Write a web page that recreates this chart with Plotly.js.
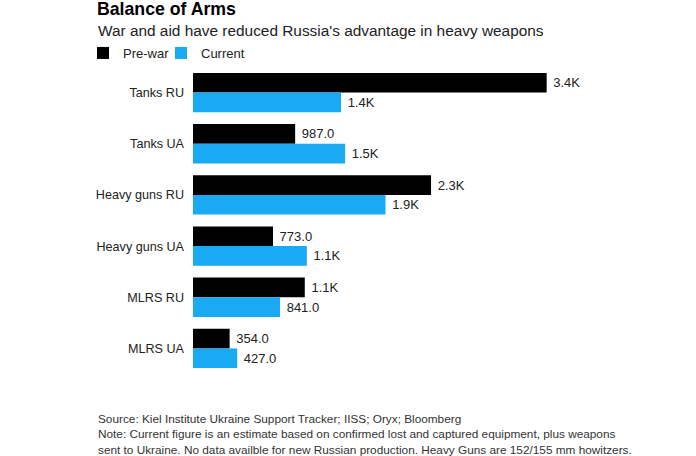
<!DOCTYPE html>
<html>
<head>
<meta charset="utf-8">
<script src="https://cdn.plot.ly/plotly-3.0.1.min.js"></script>
<style>
  body { margin: 0; background: #fff; }
  #chart { width: 696px; height: 456px; }
</style>
</head>
<body>
<div id="chart"></div>
<script>
// weapon categories, top to bottom
var categories = ['Tanks RU', 'Tanks UA', 'Heavy guns RU', 'Heavy guns UA', 'MLRS RU', 'MLRS UA'];
var preWar = [3417, 987, 2300, 773, 1080, 354];
var current = [1430, 1470, 1860, 1100, 841, 427];

// 987 -> "987.0", 3417 -> "3.4K"  (nbsp in front gives a bit of room after the bar)
function fmt(v) {
  if (v >= 1000) return '\u00a0' + (v / 1000).toFixed(1) + 'K';
  return '\u00a0' + v.toFixed(1);
}

var font = 'Liberation Sans, Arial, sans-serif';
var plotL = 193, plotW = 414;   // plot area in px, used for paper coords
var plotT = 67, plotH = 307;
var px = function (x) { return (x - plotL) / plotW; };
var py = function (y) { return 1 - (y - plotT) / plotH; };

var tracePre = {
  type: 'bar',
  orientation: 'h',
  name: 'Pre-war',
  legend: 'legend',
  y: categories,
  x: preWar,
  text: preWar.map(fmt),
  textposition: 'outside',
  cliponaxis: false,
  constraintext: 'none',
  textfont: { size: 13, color: '#222', family: font },
  marker: { color: '#000000' },
  hoverinfo: 'x+y'
};

var traceCur = {
  type: 'bar',
  orientation: 'h',
  name: 'Current',
  legend: 'legend2',
  y: categories,
  x: current,
  text: current.map(fmt),
  textposition: 'outside',
  cliponaxis: false,
  constraintext: 'none',
  textfont: { size: 13, color: '#222', family: font },
  marker: { color: '#1aa9f3' },
  hoverinfo: 'x+y'
};

// two one-item legends so the entries can sit close together
var legendBase = {
  orientation: 'h',
  xanchor: 'left',
  y: py(53), yanchor: 'middle',
  font: { size: 13, color: '#222', family: font },
  itemwidth: 30,
  bgcolor: 'rgba(0,0,0,0)'
};

var layout = {
  width: 696,
  height: 456,
  margin: { l: plotL, r: 696 - plotL - plotW, t: plotT, b: 456 - plotT - plotH, pad: 0 },
  paper_bgcolor: '#fff',
  plot_bgcolor: '#fff',
  font: { family: font, color: '#222' },
  barmode: 'group',
  bargap: 0.23,
  bargroupgap: 0,
  title: {
    text: '<b>Balance of Arms</b>',
    font: { size: 17.7, color: '#000', family: font },
    xref: 'container', yref: 'container',
    x: 97 / 696, xanchor: 'left',
    y: 1 - 3 / 456, yanchor: 'top'
  },
  xaxis: {
    range: [0, 4000],
    visible: false,
    showgrid: false,
    zeroline: false,
    fixedrange: true
  },
  yaxis: {
    autorange: 'reversed',
    ticks: '',
    ticklabelstandoff: 8,
    tickfont: { size: 12.6, color: '#222', family: font },
    showgrid: false,
    zeroline: false,
    showline: false,
    fixedrange: true
  },
  showlegend: true,
  legend: Object.assign({}, legendBase, { x: px(83) }),
  legend2: Object.assign({}, legendBase, { x: px(161) }),
  annotations: [
    {
      text: 'War and aid have reduced Russia\'s advantage in heavy weapons',
      xref: 'paper', yref: 'paper',
      x: px(96), y: py(31),
      xanchor: 'left', yanchor: 'middle',
      showarrow: false,
      font: { size: 15.4, color: '#222', family: font }
    },
    {
      text: 'Source: Kiel Institute Ukraine Support Tracker; IISS; Oryx; Bloomberg<br>' +
            'Note: Current figure is an estimate based on confirmed lost and captured equipment, plus weapons<br>' +
            'sent to Ukraine. No data availble for new Russian production. Heavy Guns are 152/155 mm howitzers.',
      xref: 'paper', yref: 'paper',
      x: px(96), y: py(410),
      xanchor: 'left', yanchor: 'top',
      align: 'left',
      showarrow: false,
      font: { size: 11.8, color: '#333', family: font }
    }
  ]
};

Plotly.newPlot('chart', [tracePre, traceCur], layout, { displayModeBar: false });
</script>
</body>
</html>
